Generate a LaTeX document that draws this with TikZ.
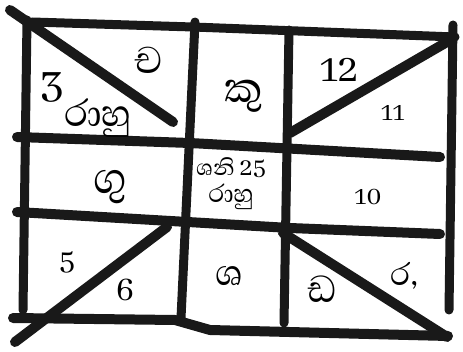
\documentclass[tikz,border=0pt]{standalone}
\usepackage{fontspec}
\usetikzlibrary{positioning}
\newfontfamily\sinfont[Script=Sinhala]{Abhaya Libre}
\begin{document}
\begin{tikzpicture}[
    x=1pt, y=-1pt,
    trait/.style={draw=black!90, line width=9pt, line cap=round},
    diag/.style={trait, line width=10pt},
    maison/.style={font=\sinfont\fontsize{#1}{#1}\selectfont, inner sep=0pt},
    maison/.default=30
]
\useasboundingbox (0,0) rectangle (463,352);
% Cadre et grille
\draw[trait] (32,22) -- (193,27) -- (455,37);
\draw[trait] (27,20) -- (23,310);
\draw[trait] (453,25) -- (449,310);
\draw[trait] (195,22) -- (181,318);
\draw[trait] (289,30) -- (284,323);
\draw[diag] (17,137) -- (190,143) -- (440,157);
\draw[diag] (17,212) -- (290,228) -- (440,234);
\draw[diag] (13,318) -- (175,320) -- (210,330) -- (448,336);
% Diagonales des coins
\draw[diag] (10,10) -- (173,122);
\draw[diag] (447,42) -- (290,133);
\draw[diag] (167,227) -- (15,342);
\draw[diag] (283,233) -- (447,337);
% Maisons
\node[maison=54] (m1) at (244,96) {කු};
\node[maison=48] (m2) at (148,60) {ච};
\node[maison=50] (m3) at (53,88) {3};
\node[maison=48] (r3) at (98,118) {රාහු};
\node[maison=56] (m4) at (110,187) {ගු};
\node[maison=34] (m5) at (67,262) {5};
\node[maison=36] (m6) at (125,290) {6};
\node[maison=46] (m7) at (229,276) {ශ};
\node[maison=48] (m8) at (322,289) {ඩ};
\node[maison=40] (m9) at (404,276) {ර,};
\node[maison=29] (m10) at (368,197) {10};
\node[maison=29] (m11) at (393,113) {11};
\node[maison=44] (m12) at (340,70) {12};
% Centre
\node[maison=28] (c1) at (231,168) {ශනි 25};
\node[maison=32, below=6pt of c1] (c2) {රාහු};
\end{tikzpicture}
\end{document}
